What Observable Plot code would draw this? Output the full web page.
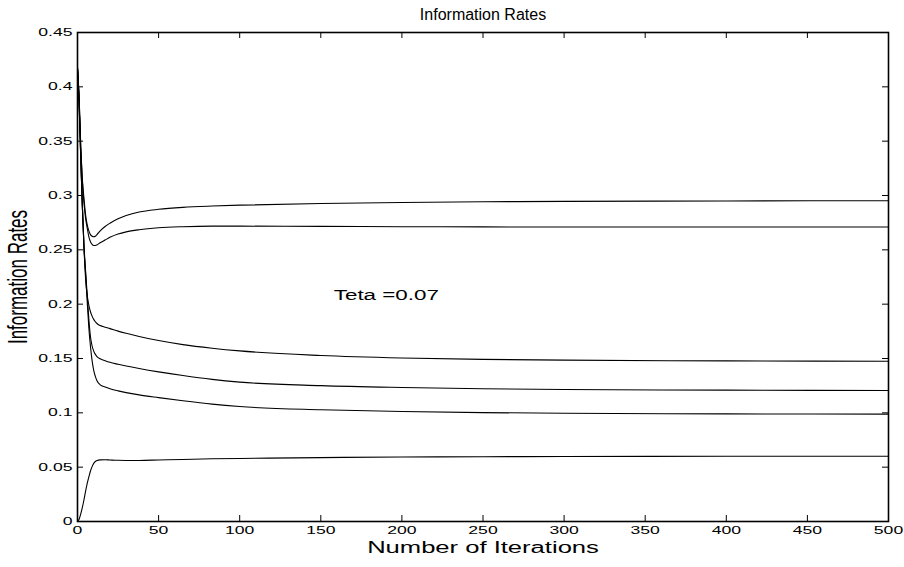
<!DOCTYPE html>
<html>
<head>
<meta charset="utf-8">
<script src="https://cdn.jsdelivr.net/npm/d3@7"></script>
<script src="https://cdn.jsdelivr.net/npm/@observablehq/plot@0.6"></script>
<style>
  html, body { margin: 0; padding: 0; background: #fff; }
</style>
</head>
<body>
<div id="chart"></div>
<script>
// ---- data ----
const title = "Information Rates";
const xLabel = "Number of Iterations";
const yLabel = "Information Rates";
const annotation = [{x: 158, y: 0.208, text: "Teta =0.07"}];

const xTicks = [0, 50, 100, 150, 200, 250, 300, 350, 400, 450, 500];
const xTickLabels = ["0", "50", "100", "150", "200", "250", "300", "350", "400", "450", "500"];
const yTicks = [0, 0.05, 0.1, 0.15, 0.2, 0.25, 0.3, 0.35, 0.4, 0.45];
const yTickLabels = ["0", "0.05", "0.1", "0.15", "0.2", "0.25", "0.3", "0.35", "0.4", "0.45"];

const iterations = [0, 1, 2, 3, 4, 5, 6, 7, 8, 9, 10, 11, 12, 14, 17, 20, 25, 30, 38, 50, 65, 83, 100, 150, 200, 250, 300, 400, 500];

const seriesA = [0.417, 0.39, 0.345, 0.315, 0.297, 0.282, 0.273, 0.2675, 0.264, 0.2625, 0.262, 0.2625, 0.264, 0.2675, 0.2715, 0.2745, 0.2785, 0.2815, 0.2848, 0.2873, 0.2891, 0.2903, 0.2911, 0.2926, 0.2936, 0.2942, 0.2946, 0.295, 0.2952];
const seriesB = [0.417, 0.39, 0.345, 0.313, 0.293, 0.279, 0.27, 0.262, 0.2575, 0.255, 0.254, 0.254, 0.2545, 0.2565, 0.259, 0.2615, 0.2645, 0.2665, 0.2685, 0.2703, 0.2713, 0.2718, 0.2718, 0.2716, 0.2713, 0.2711, 0.271, 0.271, 0.271];
const seriesC = [0.417, 0.385, 0.335, 0.29, 0.252, 0.223, 0.208, 0.199, 0.193, 0.189, 0.186, 0.1838, 0.1822, 0.1803, 0.1788, 0.1775, 0.1752, 0.1732, 0.1703, 0.1665, 0.1628, 0.1595, 0.157, 0.1528, 0.1505, 0.1492, 0.1485, 0.1478, 0.1475];
const seriesD = [0.417, 0.385, 0.335, 0.29, 0.254, 0.23, 0.208, 0.186, 0.17, 0.1615, 0.1568, 0.1538, 0.1518, 0.1497, 0.148, 0.1465, 0.1447, 0.1431, 0.1408, 0.1377, 0.1343, 0.1308, 0.1283, 0.125, 0.1233, 0.1222, 0.1215, 0.1209, 0.1205];
const seriesE = [0.417, 0.385, 0.335, 0.29, 0.252, 0.228, 0.202, 0.178, 0.161, 0.148, 0.139, 0.1335, 0.1295, 0.1258, 0.1238, 0.1222, 0.1202, 0.1186, 0.1165, 0.114, 0.1111, 0.108, 0.1058, 0.1028, 0.1012, 0.1002, 0.0996, 0.099, 0.0988];
const seriesF = [0, 0.002, 0.007, 0.013, 0.02, 0.028, 0.035, 0.041, 0.0465, 0.0505, 0.0535, 0.0552, 0.0561, 0.0567, 0.0568, 0.0566, 0.0563, 0.0562, 0.0562, 0.0566, 0.0571, 0.0577, 0.058, 0.0588, 0.0593, 0.0596, 0.0598, 0.06, 0.0601];

const seriesList = [seriesA, seriesB, seriesC, seriesD, seriesE, seriesF];
const rows = seriesList.flatMap((vals, k) => vals.map((v, i) => ({series: k, x: iterations[i], y: v})));

// ---- layout ----
const W = 904, H = 567;
const mL = 77, mR = 16, mT = 32, mB = 46;
const plotW = W - mL - mR, plotH = H - mT - mB;
const tickLen = 6;
const stretch = 1.6;
const font = "'Liberation Sans', Arial, Helvetica, sans-serif";

const xFmt = d => xTickLabels[xTicks.indexOf(d)];
const yFmt = d => yTickLabels[yTicks.findIndex(t => Math.abs(t - d) < 1e-9)];

const chart = Plot.plot({
  width: W,
  height: H,
  marginLeft: mL,
  marginRight: mR,
  marginTop: mT,
  marginBottom: mB,
  style: {fontFamily: font, background: "#fff", color: "#000"},
  x: {domain: [0, 500]},
  y: {domain: [0, 0.45]},
  marks: [
    Plot.line(rows, {x: "x", y: "y", z: "series", stroke: "#000", strokeWidth: 1.1, curve: "monotone-x"}),
    // inward ticks on all four sides
    Plot.tickY(yTicks, {y: d => d, stroke: "#000", strokeWidth: 1, insetRight: plotW - tickLen}),
    Plot.tickY(yTicks, {y: d => d, stroke: "#000", strokeWidth: 1, insetLeft: plotW - tickLen}),
    Plot.tickX(xTicks, {x: d => d, stroke: "#000", strokeWidth: 1, insetTop: plotH - tickLen}),
    Plot.tickX(xTicks, {x: d => d, stroke: "#000", strokeWidth: 1, insetBottom: plotH - tickLen}),
    Plot.frame({stroke: "#000", strokeWidth: 1.6}),
    Plot.axisY(yTicks, {tickSize: 0, tickPadding: 5, tickFormat: yFmt, fontSize: 11, label: null}),
    Plot.axisX(xTicks, {tickSize: 0, tickPadding: 5, tickFormat: xFmt, fontSize: 11, label: null}),
    Plot.text([title], {text: d => d, frameAnchor: "top", dy: -24, fontSize: 16}),
    Plot.text([xLabel], {text: d => d, frameAnchor: "bottom", dy: 31, fontSize: 16}),
    Plot.text([yLabel], {text: d => d, frameAnchor: "left", textAnchor: "middle", dx: -59, rotate: -90, fontSize: 17}),
    Plot.text(annotation, {x: "x", y: "y", text: "text", textAnchor: "start", fontSize: 14})
  ]
});

// the reference figure's labels are horizontally stretched: widen glyphs about their anchor
d3.select(chart).selectAll("text").each(function() {
  const t = this.getAttribute("transform") || "";
  const rotated = /rotate\(/.test(t);
  if (!rotated && this.textContent === title) return;
  this.setAttribute("transform", t + (rotated ? ` scale(1,${stretch})` : ` scale(${stretch},1)`));
});

document.getElementById("chart").appendChild(chart);
</script>
</body>
</html>
